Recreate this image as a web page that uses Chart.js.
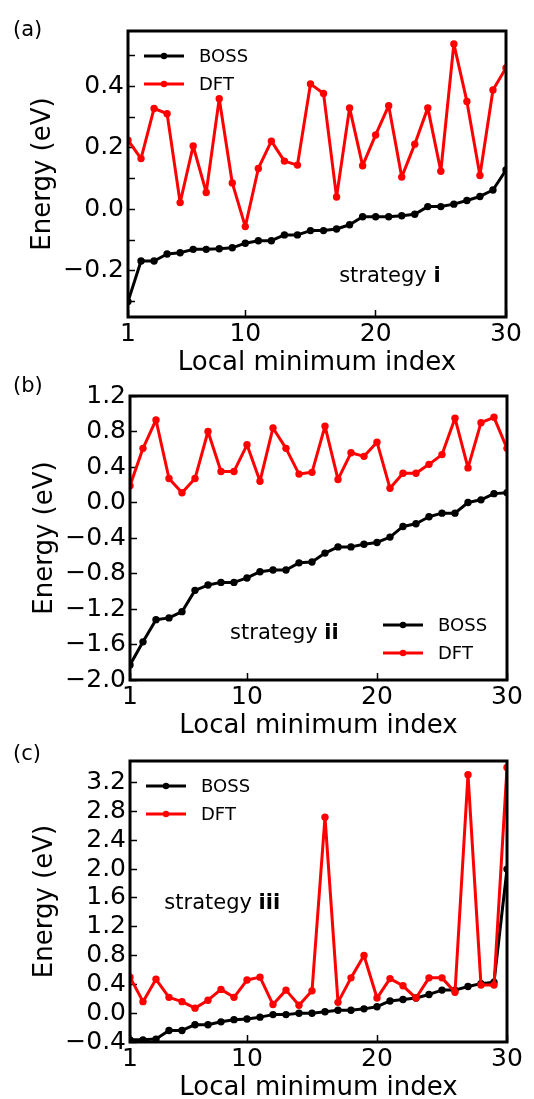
<!DOCTYPE html>
<html>
<head>
<meta charset="utf-8">
<script src="https://cdn.jsdelivr.net/npm/chart.js@4.4.1/dist/chart.umd.min.js"></script>
<style>
  html, body { margin: 0; padding: 0; background: #fff; overflow: hidden; width: 534px; height: 1099px; }
  canvas { position: absolute; left: 0; }
</style>
</head>
<body>
<canvas id="pa" width="534" height="380" style="top:0px"></canvas>
<canvas id="pb" width="534" height="373" style="top:370px"></canvas>
<canvas id="pc" width="534" height="370" style="top:735px"></canvas>
<script>
const FONT = "'DejaVu Sans', sans-serif";

// indices des minima locaux
const indices = [1,2,3,4,5,6,7,8,9,10,11,12,13,14,15,16,17,18,19,20,21,22,23,24,25,26,27,28,29,30];
const xTicks = [1, 10, 20, 30];

// (a) strategy i
const bossA = [-0.30,-0.168,-0.168,-0.145,-0.141,-0.130,-0.130,-0.128,-0.125,-0.110,-0.102,-0.102,-0.083,-0.083,-0.069,-0.069,-0.064,-0.050,-0.024,-0.024,-0.024,-0.021,-0.016,0.009,0.009,0.017,0.029,0.042,0.063,0.128];
const dftA = [0.225,0.165,0.328,0.311,0.022,0.206,0.055,0.360,0.086,-0.056,0.133,0.222,0.157,0.144,0.408,0.377,0.040,0.330,0.142,0.242,0.337,0.105,0.212,0.330,0.124,0.538,0.351,0.110,0.388,0.460];
const yTicksA = [-0.3,-0.2,-0.1,0,0.1,0.2,0.3,0.4,0.5];
const yLabelsA = [-0.2,0,0.2,0.4];

// (b) strategy ii
const bossB = [-1.83,-1.57,-1.32,-1.30,-1.23,-0.99,-0.93,-0.90,-0.90,-0.85,-0.78,-0.76,-0.76,-0.68,-0.67,-0.57,-0.50,-0.50,-0.47,-0.45,-0.39,-0.27,-0.24,-0.16,-0.12,-0.12,0.00,0.03,0.10,0.11];
const dftB = [0.19,0.61,0.93,0.27,0.11,0.27,0.80,0.35,0.35,0.65,0.24,0.84,0.61,0.32,0.34,0.86,0.26,0.56,0.52,0.68,0.16,0.33,0.33,0.43,0.54,0.95,0.39,0.90,0.96,0.61];
const yTicksB = [-2.0,-1.6,-1.2,-0.8,-0.4,0,0.4,0.8,1.2];
const yLabelsB = yTicksB;

// (c) strategy iii
const bossC = [-0.37,-0.37,-0.36,-0.24,-0.24,-0.16,-0.16,-0.12,-0.09,-0.08,-0.055,-0.02,-0.02,0.0,0.0,0.02,0.04,0.04,0.06,0.09,0.17,0.19,0.21,0.26,0.32,0.32,0.37,0.41,0.43,2.0];
const dftC = [0.50,0.16,0.47,0.22,0.16,0.07,0.18,0.33,0.22,0.46,0.50,0.12,0.32,0.11,0.31,2.72,0.15,0.49,0.80,0.21,0.48,0.38,0.21,0.49,0.49,0.29,3.31,0.39,0.39,3.41];
const yTicksC = [-0.4,0,0.4,0.8,1.2,1.6,2.0,2.4,2.8,3.2];
const yLabelsC = yTicksC;

function fmt(v) {
  if (Math.abs(v) < 1e-9) v = 0;
  return v.toFixed(1).replace('-', '\u2212');
}

function serie(label, ys, color, order) {
  return {
    label,
    data: indices.map((x, i) => ({ x, y: ys[i] })),
    borderColor: color,
    backgroundColor: color,
    borderWidth: 3,
    borderJoinStyle: 'round',
    borderCapStyle: 'round',
    pointRadius: 3.7,
    pointBorderWidth: 0,
    pointBackgroundColor: color,
    tension: 0,
    clip: 0,
    order
  };
}

/* cadre, légende, texte "strategy" et lettre du panneau */
function panelPlugin(p) {
  return {
    id: 'panelDeco',
    afterDraw(chart) {
      const { ctx, chartArea: a, scales } = chart;
      ctx.save();

      ctx.strokeStyle = '#000';
      ctx.lineWidth = 3;
      ctx.strokeRect(a.left, a.top, a.right - a.left, a.bottom - a.top);

      // légende
      const ds = chart.data.datasets;
      ds.forEach((d, i) => {
        let y, x0;
        if (p.legend === 'tl') { y = a.top + 25 + i * 28; x0 = a.left + 16; }
        else { y = a.bottom - 55 + i * 28; x0 = a.right - 124; }
        ctx.strokeStyle = d.borderColor;
        ctx.lineWidth = 3;
        ctx.beginPath(); ctx.moveTo(x0, y); ctx.lineTo(x0 + 40, y); ctx.stroke();
        ctx.fillStyle = d.borderColor;
        ctx.beginPath(); ctx.arc(x0 + 20, y, 3.2, 0, Math.PI * 2); ctx.fill();
        ctx.fillStyle = '#000';
        ctx.font = '18px ' + FONT;
        ctx.textBaseline = 'middle';
        ctx.textAlign = 'left';
        ctx.fillText(d.label, x0 + 55, y + 1);
      });

      // texte strategy
      const tx = scales.x.getPixelForValue(p.note.x);
      const ty = scales.y.getPixelForValue(p.note.y);
      ctx.textBaseline = 'alphabetic';
      ctx.fillStyle = '#000';
      ctx.font = '21px ' + FONT;
      ctx.fillText('strategy ', tx, ty);
      const w = ctx.measureText('strategy ').width;
      ctx.font = 'bold 21px ' + FONT;
      ctx.fillText(p.note.bold, tx + w, ty);

      // lettre
      ctx.font = '21px ' + FONT;
      ctx.fillText(p.letter, 13, p.letterY);
      ctx.restore();
    }
  };
}

function makePanel(p) {
  new Chart(document.getElementById(p.id), {
    type: 'line',
    data: {
      datasets: [
        serie('BOSS', p.boss, '#000000', 1),
        serie('DFT', p.dft, '#ff0000', 0)
      ]
    },
    plugins: [panelPlugin(p)],
    options: {
      responsive: false,
      animation: false,
      devicePixelRatio: 1,
      layout: { padding: p.pad },
      plugins: { legend: { display: false }, tooltip: { enabled: false } },
      scales: {
        x: {
          type: 'linear',
          min: 1, max: 30,
          afterBuildTicks: s => { s.ticks = xTicks.map(v => ({ value: v })); },
          afterFit: s => { s.height = 63; },
          grid: { drawOnChartArea: false, drawTicks: true, tickLength: -7, tickWidth: 1.5, tickColor: '#000' },
          border: { display: false },
          ticks: { color: '#000', font: { family: FONT, size: 25 }, padding: 9, maxRotation: 0, autoSkip: false, callback: v => String(v) },
          title: { display: true, text: 'Local minimum index', color: '#000', font: { family: FONT, size: 26, lineHeight: 1 }, padding: { top: 0, bottom: 4 } }
        },
        y: {
          min: p.yMin, max: p.yMax,
          afterBuildTicks: s => { s.ticks = p.yTicks.map(v => ({ value: v })); },
          afterFit: s => { s.width = 98; },
          grid: { drawOnChartArea: false, drawTicks: true, tickLength: -7, tickWidth: 1.5, tickColor: '#000' },
          border: { display: false },
          ticks: {
            color: '#000', font: { family: FONT, size: 25 }, padding: 11, autoSkip: false,
            callback: v => p.yLabels.some(l => Math.abs(l - v) < 1e-6) ? fmt(v) : ''
          },
          title: { display: true, text: 'Energy (eV)', color: '#000', font: { family: FONT, size: 26, lineHeight: 1 }, padding: 0 }
        }
      }
    }
  });
}

makePanel({
  id: 'pa', boss: bossA, dft: dftA, yMin: -0.35, yMax: 0.58,
  yTicks: yTicksA, yLabels: yLabelsA, legend: 'tl',
  note: { x: 17.2, y: -0.235, bold: 'i' }, letter: '(a)', letterY: 36,
  pad: { left: 30, top: 31, right: 28, bottom: 0 }
});
makePanel({
  id: 'pb', boss: bossB, dft: dftB, yMin: -2.0, yMax: 1.2,
  yTicks: yTicksB, yLabels: yLabelsB, legend: 'br',
  note: { x: 8.7, y: -1.54, bold: 'ii' }, letter: '(b)', letterY: 22,
  pad: { left: 32, top: 25, right: 27, bottom: 0 }
});
makePanel({
  id: 'pc', boss: bossC, dft: dftC, yMin: -0.4, yMax: 3.5,
  yTicks: yTicksC, yLabels: yLabelsC, legend: 'tl',
  note: { x: 3.64, y: 1.44, bold: 'iii' }, letter: '(c)', letterY: 25,
  pad: { left: 32, top: 22, right: 27, bottom: 0 }
});
</script>
</body>
</html>
